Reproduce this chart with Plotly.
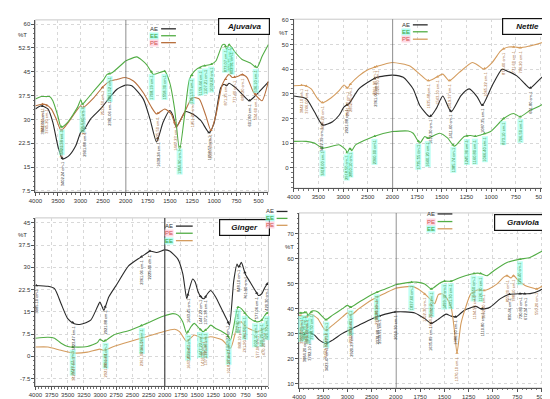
import numpy as np
import plotly.graph_objects as go

W, H = 550, 399

# ---------------- data (wavenumber cm-1, %T) ----------------
# Ajuvaiva
aj_ae_wn = [4000, 3869, 3723, 3614, 3505, 3396, 3249, 3103, 2993, 2920, 2774, 2555, 2336, 2190, 2000, 1930, 1800, 1725, 1651, 1577,
            1502, 1465, 1428, 1373, 1324, 1243, 1150, 1057, 1000, 927, 890, 860, 834, 760, 686, 605, 500, 389]
aj_ae_t = [33.3, 34.3, 33.3, 29.1, 21.8, 17.5, 18.7, 21.8, 26.0, 26.8, 30.2, 33.3, 37.2, 39.5, 40.8, 40.6, 36.4, 30.2, 22.9, 29.1,
           32.8, 31.2, 27.6, 30.2, 32.5, 31.7, 29.6, 25.8, 29.1, 40.0, 41.1, 40.6, 41.4, 40.0, 38.0, 35.9, 38.5, 41.8]
aj_ee_wn = [4000, 3869, 3760, 3687, 3614, 3505, 3431, 3286, 3067, 2993, 2958, 2883, 2701, 2483, 2410, 2301, 2000, 1874, 1763, 1688,
            1558, 1502, 1447, 1391, 1335, 1280, 1224, 1131, 1038, 982, 908, 880, 860, 834, 760, 686, 593, 519, 460, 389]
aj_ee_t = [36.4, 37.2, 37.2, 37.2, 35.9, 31.2, 27.6, 29.1, 33.8, 36.2, 34.8, 35.9, 39.0, 42.6, 44.2, 44.7, 48.4, 49.7, 47.3, 44.2,
           45.2, 41.6, 33.3, 20.3, 31.2, 42.6, 45.2, 46.8, 47.3, 48.4, 53.5, 53.6, 52.0, 53.6, 51.0, 48.9, 47.8, 46.3, 49.9, 53.6]
aj_pe_wn = [4000, 3869, 3760, 3650, 3540, 3431, 3300, 2993, 2958, 2701, 2483, 2336, 2190, 2000, 1911, 1800, 1707, 1651, 1558, 1484,
            1428, 1335, 1261, 1224, 1168, 1095, 1038, 982, 908, 834, 797, 724, 686, 630, 556, 463, 389]
aj_pe_t = [34.3, 34.8, 34.6, 33.3, 30.2, 26.5, 28.5, 34.3, 33.6, 36.9, 40.6, 42.1, 42.6, 43.2, 42.1, 38.4, 33.8, 31.7, 33.3, 31.7,
           27.6, 32.3, 36.4, 36.9, 36.4, 31.2, 26.5, 31.2, 41.1, 44.2, 43.2, 43.7, 44.2, 43.2, 38.5, 35.9, 42.1]
aj_ae_pk = [3842.91, 3402.24, 2901.88, 2361.06, 1638.24, 1058.57, 601.80]
aj_ee_pk = [3421.18, 2954.60, 2361.52, 1708.19, 1558.30, 1384.90, 1251.53, 1159.44, 1107.21, 1032.62, 873.07, 831.35, 802.91, 536.10]
aj_pe_pk = [3842.91, 3745.20, 3418.40, 2930.10, 2512.50, 1635.50, 1447.23, 1251.20, 1037.14, 871.25, 771.40, 680.20, 534.60]

# Nettle
nt_ae_wn = [4000, 3746, 3580, 3413, 3213, 3080, 2980, 2880, 2680, 2413, 2313, 2000, 1890, 1790, 1723, 1620, 1556, 1490, 1406, 1306,
            1223, 1140, 1090, 990, 890, 840, 740, 656, 606, 506, 390]
nt_ae_t = [29.1, 28.0, 22.7, 17.3, 18.7, 21.3, 24.7, 26.0, 32.0, 35.7, 36.7, 37.6, 36.7, 32.0, 25.3, 20.7, 24.0, 29.1, 22.7, 29.3,
           32.0, 28.7, 25.3, 33.3, 40.0, 39.3, 37.3, 34.0, 32.3, 36.0, 40.0]
nt_pe_wn = [4000, 3812, 3746, 3646, 3513, 3413, 3246, 3080, 2980, 2913, 2850, 2680, 2480, 2380, 2213, 2000, 1823, 1723, 1640, 1556,
            1490, 1423, 1323, 1190, 1123, 1073, 990, 906, 873, 823, 756, 706, 623, 490, 390]
nt_pe_t = [33.3, 33.5, 33.2, 32.0, 28.0, 26.4, 28.3, 31.3, 33.6, 32.3, 34.0, 37.3, 40.0, 40.7, 41.7, 42.7, 41.3, 38.0, 35.3, 36.7,
           38.0, 35.3, 38.7, 42.7, 41.3, 40.0, 42.7, 47.3, 48.3, 49.0, 49.0, 48.7, 49.3, 50.7, 54.0]
nt_ee_wn = [4000, 3746, 3580, 3413, 3080, 2946, 2913, 2866, 2826, 2746, 2380, 2000, 1840, 1790, 1723, 1673, 1640, 1523, 1440, 1373,
            1273, 1206, 1156, 1106, 1006, 873, 773, 706, 606, 473, 380]
nt_ee_t = [10.7, 10.7, 10.0, 8.0, 9.3, 7.3, 6.0, 8.0, 6.9, 9.3, 12.7, 14.7, 14.9, 14.0, 10.0, 12.7, 12.0, 14.0, 12.0, 8.7,
           12.7, 13.1, 12.7, 13.3, 14.7, 20.0, 22.0, 20.7, 23.3, 26.0, 33.3]
nt_ae_pk = [3422.39, 2921.88, 2361.06, 1612.30, 1411.60, 1087.35, 601.80]
nt_pe_pk = [3842.10, 3746.00, 3418.20, 2921.00, 2852.40, 2361.00, 2320.50, 1635.48, 1543.10, 1419.37, 1065.22, 873.40, 771.60, 706.20]
nt_ee_pk = [3418.00, 2918.50, 2850.10, 2360.00, 1735.55, 1640.20, 1385.74, 1245.30, 1160.80, 1066.40, 873.10, 706.50]

# Ginger
gi_ae_wn = [4000, 3807, 3705, 3603, 3501, 3400, 3298, 3145, 3043, 3003, 2967, 2942, 2866, 2738, 2560, 2382, 2306, 2230, 2128, 2000,
            1925, 1797, 1721, 1660, 1619, 1568, 1528, 1492, 1441, 1391, 1340, 1289, 1213, 1136, 1086, 1035, 999, 933, 882, 857,
            816, 755, 679, 602, 551, 500, 450, 399]
gi_ae_t = [23.9, 23.6, 22.8, 17.7, 12.7, 11.0, 10.8, 12.2, 16.6, 18.3, 16.6, 15.5, 20.0, 24.4, 30.5, 33.3, 34.4, 35.5, 35.0, 35.9,
           35.5, 32.8, 27.8, 19.4, 22.8, 26.1, 25.0, 22.2, 20.0, 19.4, 21.1, 22.2, 20.0, 16.6, 14.4, 12.2, 10.5, 25.5, 31.1, 30.0,
           31.7, 27.8, 25.0, 22.2, 20.5, 21.1, 23.3, 25.0]
gi_pe_wn = [4000, 3807, 3705, 3603, 3501, 3400, 3196, 3043, 3003, 2942, 2789, 2535, 2281, 2026, 1874, 1797, 1721, 1660, 1594, 1543,
            1467, 1406, 1340, 1289, 1213, 1111, 1035, 984, 934, 867, 816, 755, 679, 577, 500, 450, 399]
gi_pe_t = [6.1, 6.4, 6.1, 4.4, 3.3, 3.1, 3.3, 4.6, 5.7, 5.0, 7.2, 8.8, 11.1, 13.5, 14.4, 13.9, 11.6, 7.7, 10.0, 11.1,
           9.4, 8.3, 9.4, 10.5, 9.4, 8.3, 7.2, 5.5, 10.0, 16.6, 16.1, 14.4, 12.7, 11.6, 12.2, 13.9, 15.0]
gi_ee_wn = [4000, 3807, 3603, 3400, 3196, 3003, 2942, 2789, 2535, 2281, 2026, 1848, 1772, 1660, 1543, 1416, 1289, 1111, 984, 867,
            816, 755, 577, 450, 399]
gi_ee_t = [3.1, 3.1, 2.0, 1.1, 1.4, 2.4, 2.0, 3.3, 5.0, 6.6, 8.3, 9.1, 8.3, 5.0, 7.2, 6.1, 6.6, 5.5, 2.7, 11.1,
           11.6, 10.0, 8.3, 9.4, 10.5]
gi_ae_pk = [3985.10, 3423.47, 2921.88, 2361.06, 2229.40, 1643.45, 1447.22, 1371.38, 1018.27, 848.10, 761.90, 577.06, 420.30]
gi_pe_pk = [3423.47, 2921.88, 2361.06, 1643.45, 1447.22, 1371.38, 1018.27, 867.30, 761.90, 602.10, 500.20, 420.30]
gi_ee_pk = [3423.47, 2921.88, 2361.06, 1643.45, 1416.30, 1371.38, 1018.27, 848.10, 761.90, 577.06, 470.20]

# Graviola
gr_pe_wn = [4000, 3918, 3850, 3816, 3748, 3714, 3612, 3510, 3442, 3306, 3102, 3000, 2932, 2762, 2490, 2388, 2218, 2000, 1837, 1787,
            1702, 1634, 1550, 1499, 1431, 1329, 1194, 1126, 1059, 991, 855, 720, 618, 500, 388]
gr_pe_t = [38.3, 38.3, 38.7, 37.4, 38.7, 39.1, 38.7, 36.7, 35.6, 37.4, 40.0, 41.3, 40.6, 42.6, 45.7, 46.6, 47.9, 49.6, 50.6, 50.6,
           49.9, 47.9, 50.2, 51.0, 51.0, 52.6, 54.1, 54.1, 53.2, 55.2, 58.5, 59.8, 60.5, 62.9, 64.7]
gr_ee_wn = [4000, 3850, 3748, 3612, 3510, 3442, 3306, 3102, 3000, 2932, 2762, 2490, 2388, 2218, 2000, 1837, 1770, 1702, 1634, 1600,
            1560, 1516, 1482, 1431, 1397, 1370, 1329, 1279, 1228, 1160, 1092, 1042, 957, 889, 855, 815, 788, 737, 669, 618,
            550, 483, 388]
gr_ee_t = [37.4, 36.7, 37.7, 36.0, 32.7, 31.4, 33.4, 36.7, 38.3, 37.4, 40.0, 43.6, 44.6, 46.2, 48.2, 48.9, 47.9, 45.9, 43.3, 42.0,
           45.7, 45.9, 44.6, 40.7, 31.4, 22.2, 34.0, 40.7, 45.9, 47.5, 47.3, 47.9, 49.9, 52.6, 53.2, 52.3, 53.2, 51.2, 49.3, 48.6,
           47.9, 49.3, 53.2]
gr_ae_wn = [4000, 3884, 3782, 3680, 3578, 3442, 3306, 3102, 2966, 2762, 2490, 2354, 2218, 2000, 1905, 1804, 1702, 1634, 1567, 1482,
            1431, 1380, 1296, 1177, 1126, 1075, 1025, 923, 838, 720, 618, 517, 388]
gr_ae_t = [30.1, 29.8, 30.4, 29.4, 27.4, 26.1, 27.4, 30.1, 31.4, 33.4, 36.0, 37.0, 37.8, 38.7, 38.7, 38.3, 36.0, 34.1, 35.6, 37.8,
           37.0, 36.7, 39.3, 40.9, 40.0, 40.0, 40.7, 44.0, 45.7, 46.0, 46.0, 47.3, 50.6]
gr_ae_pk = [3884.20, 3782.10, 3423.47, 2920.23, 2378.88, 2339.91, 2010.30, 1635.89, 1386.30, 1110.80, 830.46, 720.80, 672.34]
gr_pe_pk = [3960.40, 3884.20, 3816.30, 3748.50, 3442.10, 2932.40, 2388.20, 1837.60, 1634.20, 1499.10, 1431.30, 1194.50, 1126.30, 720.40]
gr_ee_pk = [3960.40, 3850.20, 3442.10, 2932.40, 2388.20, 1702.30, 1634.20, 1370.10, 1194.50, 1092.40, 855.30, 788.10, 550.20]

# tick values
aj_yticks = [7.5, 15, 22.5, 30, 37.5, 45, 52.5, 60]
nt_yticks = [0, 10, 20, 30, 40, 50, 60]
gi_yticks = [-7.5, 0, 7.5, 15, 22.5, 30, 37.5, 45]
gr_yticks = [10, 20, 30, 40, 50, 60, 70]
left_xticks = [4000, 3500, 3000, 2500]
right_xticks = [2000, 1750, 1500, 1250, 1000, 750, 500]
gi_xticks = [4000, 3750, 3500, 3250, 3000, 2750, 2500, 2250, 2000, 1750, 1500, 1250, 1000, 750, 500]

# ---------------- styling ----------------
BLACK = "#2a2a2a"
GREEN = "#52ad45"
ORANGE_A = "#b8703e"
ORANGE = "#d49c5e"
CYAN_BG = "rgba(140,255,235,0.55)"
FONT = "Liberation Sans, Arial, sans-serif"


def px(x):
    return x / W


def py(y):
    return 1 - y / H


fig = go.Figure()
annotations = []
shapes = []


def add_curve(wn, t, color, xaxes, yax):
    for xa in xaxes:
        fig.add_trace(go.Scatter(x=wn, y=t, mode="lines", xaxis=xa, yaxis=yax,
                                 line=dict(color=color, width=1.1, shape="spline", smoothing=0.6),
                                 showlegend=False, hoverinfo="skip"))


def add_peaks(pk, wn, t, color, txtcolor, bg, xaxes, yax, split):
    xs = np.array(wn[::-1], dtype=float)
    ys = np.array(t[::-1], dtype=float)
    groups = {}
    for w in pk:
        v = float(np.interp(w, xs, ys))
        if split:
            xa = xaxes[0] if w >= 2000 else xaxes[1]
        else:
            xa = xaxes[0]
        groups.setdefault(xa, ([], []))
        groups[xa][0].append(w)
        groups[xa][1].append(v)
        annotations.append(dict(x=w, y=v, xref=xa, yref=yax, text=f"{w:.2f} cm-1", textangle=-90,
                                showarrow=False, xanchor="center", yanchor="top", yshift=-2,
                                font=dict(size=4, color=txtcolor, family=FONT), bgcolor=bg, borderpad=0))
    for xa, (gx, gy) in groups.items():
        fig.add_trace(go.Scatter(x=gx, y=gy, mode="markers", xaxis=xa, yaxis=yax,
                                 marker=dict(symbol="triangle-up", size=3, color=color),
                                 showlegend=False, hoverinfo="skip"))


# Ajuvaiva
add_curve(aj_ae_wn, aj_ae_t, BLACK, ["x", "x2"], "y")
add_curve(aj_pe_wn, aj_pe_t, ORANGE_A, ["x", "x2"], "y")
add_curve(aj_ee_wn, aj_ee_t, GREEN, ["x", "x2"], "y")
add_peaks(aj_ae_pk, aj_ae_wn, aj_ae_t, BLACK, "#222222", None, ["x", "x2"], "y", True)
add_peaks(aj_pe_pk, aj_pe_wn, aj_pe_t, ORANGE_A, "#a0602a", None, ["x", "x2"], "y", True)
add_peaks(aj_ee_pk, aj_ee_wn, aj_ee_t, GREEN, "#2f8a2f", CYAN_BG, ["x", "x2"], "y", True)

# Nettle
add_curve(nt_ae_wn, nt_ae_t, BLACK, ["x3", "x4"], "y2")
add_curve(nt_pe_wn, nt_pe_t, ORANGE, ["x3", "x4"], "y2")
add_curve(nt_ee_wn, nt_ee_t, GREEN, ["x3", "x4"], "y2")
add_peaks(nt_ae_pk, nt_ae_wn, nt_ae_t, BLACK, "#222222", None, ["x3", "x4"], "y2", True)
add_peaks(nt_pe_pk, nt_pe_wn, nt_pe_t, ORANGE, "#a0602a", None, ["x3", "x4"], "y2", True)
add_peaks(nt_ee_pk, nt_ee_wn, nt_ee_t, GREEN, "#2f8a2f", CYAN_BG, ["x3", "x4"], "y2", True)

# Ginger
add_curve(gi_ae_wn, gi_ae_t, BLACK, ["x5"], "y3")
add_curve(gi_ee_wn, gi_ee_t, ORANGE, ["x5"], "y3")
add_curve(gi_pe_wn, gi_pe_t, GREEN, ["x5"], "y3")
add_peaks(gi_ae_pk, gi_ae_wn, gi_ae_t, BLACK, "#222222", None, ["x5"], "y3", False)
add_peaks(gi_pe_pk, gi_pe_wn, gi_pe_t, GREEN, "#2f8a2f", CYAN_BG, ["x5"], "y3", False)
add_peaks(gi_ee_pk, gi_ee_wn, gi_ee_t, ORANGE, "#a0602a", None, ["x5"], "y3", False)

# Graviola
add_curve(gr_ae_wn, gr_ae_t, BLACK, ["x6", "x7"], "y4")
add_curve(gr_ee_wn, gr_ee_t, ORANGE, ["x6", "x7"], "y4")
add_curve(gr_pe_wn, gr_pe_t, GREEN, ["x6", "x7"], "y4")
add_peaks(gr_ae_pk, gr_ae_wn, gr_ae_t, BLACK, "#222222", None, ["x6", "x7"], "y4", True)
add_peaks(gr_pe_pk, gr_pe_wn, gr_pe_t, GREEN, "#2f8a2f", CYAN_BG, ["x6", "x7"], "y4", True)
add_peaks(gr_ee_pk, gr_ee_wn, gr_ee_t, ORANGE, "#a0602a", None, ["x6", "x7"], "y4", True)

tickfont = dict(size=6, color="#333333", family=FONT)


def xax(domain, rng, tickvals, minor, anchor, showgrid=True):
    return dict(domain=domain, range=rng, anchor=anchor, tickmode="array", tickvals=tickvals,
                ticktext=[str(v) for v in tickvals], tickfont=tickfont, ticks="outside", ticklen=3,
                tickcolor="#555555", showline=True, linecolor="#555555", linewidth=1,
                showgrid=showgrid, gridcolor="#d8d8d8", griddash="dot", gridwidth=1, zeroline=False,
                minor=dict(ticks="outside", ticklen=1.5, dtick=minor, tickcolor="#777777", showgrid=False),
                fixedrange=True)


def yax(domain, rng, tickvals, anchor):
    return dict(domain=domain, range=rng, anchor=anchor, tickmode="array", tickvals=tickvals,
                ticktext=[(f"{v:g}") for v in tickvals], tickfont=tickfont, ticks="outside", ticklen=3,
                tickcolor="#555555", showline=True, linecolor="#555555", linewidth=1,
                showgrid=True, gridcolor="#d8d8d8", griddash="dot", gridwidth=1, zeroline=False,
                minor=dict(ticks="outside", ticklen=1.5, tickcolor="#777777", showgrid=False,
                           dtick=(tickvals[1] - tickvals[0]) / 5),
                fixedrange=True)


# panel geometry (pixels)
P1 = dict(l=20.7, b=112, r=256.7, t=10, bot=184)
P2 = dict(l=282.3, b=382.3, r=544.3, t=9.3, bot=180)
P3 = dict(l=20.7, r=256.7, t=210, bot=380)
P4 = dict(l=287.7, b=385.7, r=544.3, t=205, bot=381.7)

layout = dict(
    xaxis=xax([px(P1["l"]), px(P1["b"])], [4000, 2000], left_xticks, 100, "y"),
    xaxis2=xax([px(P1["b"]), px(P1["r"])], [2000, 389], right_xticks, 50, "y"),
    yaxis=yax([py(P1["bot"]), py(P1["t"])], [7.1, 61.35], aj_yticks, "x"),
    xaxis3=xax([px(P2["l"]), px(P2["b"])], [4000, 2000], left_xticks, 100, "y2"),
    xaxis4=xax([px(P2["b"]), px(P2["r"])], [2000, 380], right_xticks, 50, "y2"),
    yaxis2=yax([py(P2["bot"]), py(P2["t"])], [-8.3, 60.3], nt_yticks, "x3"),
    xaxis5=xax([px(P3["l"]), px(P3["r"])], [4000, 397], gi_xticks, 50, "y3"),
    yaxis3=yax([py(P3["bot"]), py(P3["t"])], [-10.1, 46.7], gi_yticks, "x5"),
    xaxis6=xax([px(P4["l"]), px(P4["b"])], [4000, 2000], left_xticks, 100, "y4"),
    xaxis7=xax([px(P4["b"]), px(P4["r"])], [2000, 388], right_xticks, 50, "y4"),
    yaxis4=yax([py(P4["bot"]), py(P4["t"])], [8.3, 78.3], gr_yticks, "x6"),
)

# frames and 2000 cm-1 break lines
for P in (P1, P2, P3, P4):
    shapes.append(dict(type="rect", xref="paper", yref="paper", x0=px(P["l"]), x1=px(P["r"]),
                       y0=py(P["bot"]), y1=py(P["t"]), line=dict(color="#c8c8c8", width=1), layer="below"))
for xa, ya in (("x2", "y"), ("x4", "y2"), ("x5", "y3"), ("x7", "y4")):
    shapes.append(dict(type="line", xref=xa, yref=ya + " domain", x0=2000, x1=2000, y0=0, y1=1,
                       line=dict(color="#505050", width=1.3)))

# %T labels
for (xx, yy) in ((8, 25), (272, 23), (8, 227), (278, 239)):
    annotations.append(dict(x=px(xx), y=py(yy), xref="paper", yref="paper", text="%T", showarrow=False,
                            font=dict(size=6, color="#333333", family=FONT), xanchor="center", yanchor="middle"))

# title boxes
for name, cx, cy, wd in (("Ajuvaiva", 231.5, 16.5, 46), ("Nettle", 519, 17, 45),
                         ("Ginger", 232, 220, 45), ("Graviola", 515, 215, 52)):
    annotations.append(dict(x=px(cx), y=py(cy), xref="paper", yref="paper", text=f"<b><i>{name}</i></b>",
                            showarrow=False, font=dict(size=8, color="#111111", family=FONT),
                            bgcolor="white", bordercolor="#111111", borderwidth=1.2, borderpad=2,
                            width=wd, height=11, xanchor="center", yanchor="middle"))

# legends (text + line sample)
LBL = {"AE": ("#333333", None), "EE": ("#3aa03a", "rgba(150,255,240,0.7)"), "PE": ("#d05050", "rgba(255,200,215,0.7)")}


def legend(x_txt, x0, x1, rows):
    for name, yy, col in rows:
        tc, bg = LBL[name]
        annotations.append(dict(x=px(x_txt), y=py(yy), xref="paper", yref="paper", text=name, showarrow=False,
                                font=dict(size=6, color=tc, family=FONT), xanchor="right", yanchor="middle",
                                bgcolor=bg, borderpad=0))
        shapes.append(dict(type="line", xref="paper", yref="paper", x0=px(x0), x1=px(x1), y0=py(yy), y1=py(yy),
                           line=dict(color=col, width=1.3)))


legend(146, 148, 163, [("AE", 19, BLACK), ("EE", 26, GREEN), ("PE", 33, ORANGE_A)])
legend(401, 403, 418, [("AE", 15, BLACK), ("EE", 22, GREEN), ("PE", 29.5, ORANGE)])
legend(161, 163, 180, [("AE", 218.3, BLACK), ("PE", 225.5, GREEN), ("EE", 233, ORANGE)])
legend(426, 428, 443, [("AE", 206, BLACK), ("PE", 213.7, GREEN), ("EE", 221, ORANGE)])
legend(263, 265, 276, [("AE", 203.5, BLACK), ("EE", 210.5, GREEN), ("PE", 217.5, ORANGE)])

fig.update_layout(**layout)
fig.update_layout(width=W, height=H, margin=dict(l=0, r=0, t=0, b=0), paper_bgcolor="white",
                  plot_bgcolor="white", showlegend=False, annotations=annotations, shapes=shapes,
                  font=dict(family=FONT))
fig.write_html("out.html", config={"displayModeBar": False})
